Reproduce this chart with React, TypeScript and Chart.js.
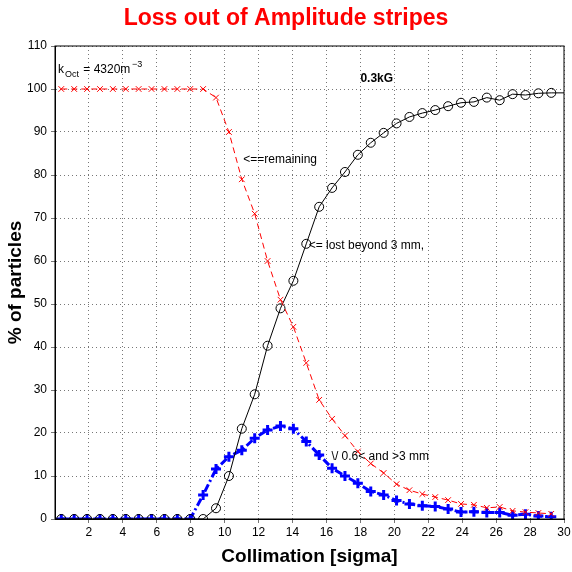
import React, { useEffect, useRef } from "react";
import { Chart, registerables } from "chart.js";
Chart.register(...registerables);

const xs = Array.from({ length: 39 }, (_, i) => +(0.37 + 0.76 * i).toFixed(2));
const remaining = [100,100,100,100,100,100,100,100,100,100,100,100,98,90,79,71,60,51,44.7,36.3,27.7,23.3,19.4,15.7,12.9,10.7,8.1,6.7,5.8,5.1,4.4,3.5,3.3,2.6,2.8,1.9,1.6,1.4,1.2];
const lost = [0,0,0,0,0,0,0,0,0,0,0,0,2.5,10,21,29,40.3,49,55.4,64,72.6,77,80.7,84.7,87.5,89.8,92,93.5,94.4,95.1,96,96.8,97,98,97.4,98.8,98.6,99,99.1];
const mid = [0,0,0,0,0,0,0,0,0,0,0,5.6,11.6,14.5,16,18.8,20.7,21.6,21,18,14.9,11.8,10,8.3,6.4,5.6,4.3,3.5,3.1,2.9,2.3,1.6,1.7,1.5,1.5,0.9,1.1,0.7,0.5];
const xTicks = [2,4,6,8,10,12,14,16,18,20,22,24,26,28,30];

export default function App() {
  const ref = useRef<HTMLCanvasElement>(null);
  useEffect(() => {
    const pts = (a: number[]) => a.map((y, i) => ({ x: xs[i], y }));
    const lostPts = [...pts(lost), { x: 30, y: 99.1 }];
    const annot = {
      id: "annot",
      afterDraw(c: any) {
        const ctx = c.ctx, xS = c.scales.x, yS = c.scales.y, a = c.chartArea;
        ctx.save();
        ctx.strokeStyle = "#000"; ctx.lineWidth = 1;
        ctx.strokeRect(a.left, a.top, a.right - a.left, a.bottom - a.top);
        ctx.fillStyle = "#000"; ctx.textBaseline = "middle"; ctx.textAlign = "left";
        const t = (s: string, x: number, y: number, f = "12px Arial") => { ctx.font = f; ctx.fillText(s, xS.getPixelForValue(x), yS.getPixelForValue(y)); };
        const kx = a.left + 3, ky = yS.getPixelForValue(104.5);
        ctx.font = "12px Arial"; ctx.fillText("k", kx, ky);
        ctx.font = "9px Arial"; ctx.fillText("Oct", kx + 7, ky + 5);
        ctx.font = "12px Arial"; ctx.fillText(" = 4320m", kx + 22, ky);
        ctx.font = "9px Arial"; ctx.fillText("−3", kx + 74, ky - 5);
        t("0.3kG", 18, 102.5, "bold 12px Arial");
        t("<==remaining", 11.1, 83.5);
        t("<= lost beyond 3 mm,", 14.95, 63.5);
        t("\\/ 0.6< and >3 mm", 16.3, 14.5);
        ctx.restore();
      },
    };
    const ch = new Chart(ref.current!, {
      type: "line",
      data: {
        datasets: [
          { data: pts(remaining), borderColor: "red", borderWidth: 1, borderDash: [6, 4], pointStyle: "crossRot", pointRadius: 4, pointBorderColor: "red", pointBorderWidth: 1, fill: false },
          { data: lostPts, borderColor: "#000", borderWidth: 1, pointStyle: "circle", pointRadius: (c: any) => (c.dataIndex === lostPts.length - 1 ? 0 : 4.5), pointBackgroundColor: "rgba(0,0,0,0)", pointBorderColor: "#000", pointBorderWidth: 1, fill: false },
          { data: pts(mid), borderColor: "blue", borderWidth: 3, borderDash: [8, 3, 2, 3], pointStyle: "cross", pointRadius: 5, pointBorderColor: "blue", pointBorderWidth: 3, fill: false },
        ],
      },
      options: {
        animation: false, responsive: false, maintainAspectRatio: false,
        layout: { padding: { top: 46, right: 0, left: 0, bottom: 0 } },
        plugins: { legend: { display: false }, tooltip: { enabled: false }, title: { display: false } },
        scales: {
          x: {
            type: "linear", min: 0, max: 30,
            afterBuildTicks: (s: any) => { s.ticks = xTicks.map((v) => ({ value: v })); },
            ticks: { color: "#000", font: { family: "Arial", size: 12 }, maxRotation: 0, padding: 2 },
            grid: { color: "#777", lineWidth: 1, tickLength: 4 },
            border: { dash: [1, 3], display: true, color: "#000" } as any,
            title: { display: true, text: "Collimation [sigma]", color: "#000", font: { family: "Arial", size: 19, weight: "bold" }, padding: { top: 2 } },
            afterFit: (s: any) => { s.height = 53; s.paddingRight = 0; s.paddingLeft = 0; },
          },
          y: {
            min: 0, max: 110,
            ticks: { stepSize: 10, color: "#000", font: { family: "Arial", size: 12 }, padding: 4 },
            grid: { color: "#777", tickLength: 4 },
            border: { dash: [1, 3], color: "#000" } as any,
            title: { display: true, text: "% of particles", color: "#000", font: { family: "Arial", size: 19, weight: "bold" }, padding: { bottom: 6 } },
            afterFit: (s: any) => { s.width = 55; s.paddingTop = 0; s.paddingBottom = 0; },
          },
        },
      },
      plugins: [annot, {
        id: "ttl",
        afterDraw(c: any) {
          const ctx = c.ctx; ctx.save();
          ctx.font = "bold 23px Arial"; ctx.fillStyle = "red"; ctx.textAlign = "center"; ctx.textBaseline = "middle";
          ctx.fillText("Loss out of Amplitude stripes", 286, 19); ctx.restore();
        },
      }],
    } as any);
    return () => ch.destroy();
  }, []);
  return (
    <div style={{ position: "fixed", left: 0, top: 0, width: 572, height: 572, background: "#fff" }}>
      <canvas ref={ref} width={572} height={572} style={{ width: 572, height: 572 }} />
    </div>
  );
}
